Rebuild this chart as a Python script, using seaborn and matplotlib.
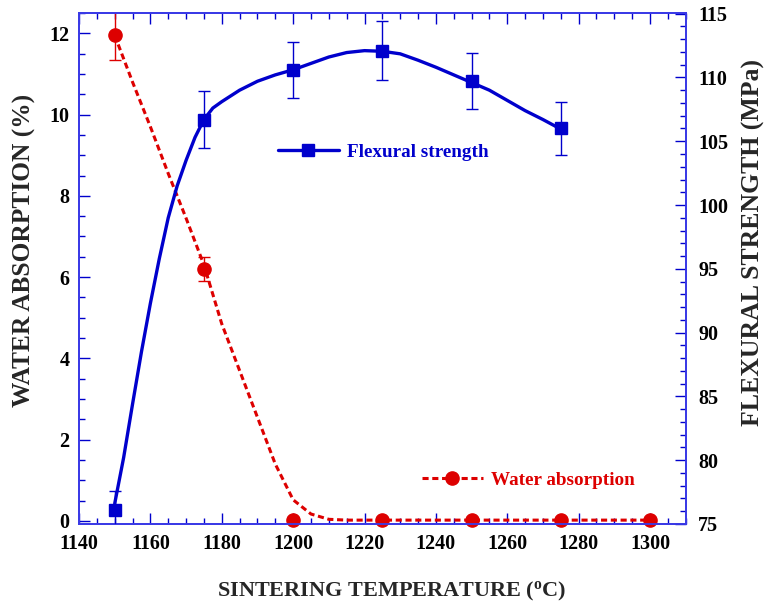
import numpy as np
import pandas as pd
import matplotlib
matplotlib.use("Agg")
import matplotlib.pyplot as plt
from matplotlib.ticker import MultipleLocator
from matplotlib.lines import Line2D
import seaborn as sns

# measured points
temps_fs = [1150, 1175, 1200, 1225, 1250, 1275]
flexural = [76.1, 106.7, 110.6, 112.1, 109.7, 106.0]
flexural_err = [1.5, 2.2, 2.2, 2.3, 2.2, 2.1]

temps_wa = [1150, 1175, 1200, 1225, 1250, 1275, 1300]
water = [11.95, 6.2, 0.02, 0.02, 0.02, 0.02, 0.02]
water_err = [0.6, 0.3, 0, 0, 0, 0, 0]

# smooth curves
curve_fs_t = [1150, 1152.5, 1155, 1157.5, 1160, 1162.5, 1165, 1167.5, 1170, 1172.5,
              1175, 1177.5, 1180, 1185, 1190, 1195, 1200, 1205, 1210, 1215, 1220, 1225,
              1230, 1235, 1240, 1245, 1250, 1255, 1260, 1265, 1270, 1275]
curve_fs_v = [76.6, 80.2, 84.4, 88.5, 92.3, 95.8, 99.0, 101.5, 103.5, 105.3,
              106.7, 107.6, 108.1, 109.0, 109.7, 110.2, 110.6, 111.1, 111.6, 111.95, 112.1, 112.05,
              111.85, 111.35, 110.8, 110.2, 109.6, 109.0, 108.2, 107.4, 106.7, 105.95]

curve_wa_t = [1150, 1155, 1160, 1165, 1170, 1175, 1180, 1185, 1190, 1195, 1200,
              1205, 1210, 1215, 1220, 1240, 1260, 1280, 1300]
curve_wa_v = [11.95, 10.8, 9.7, 8.55, 7.45, 6.3, 4.85, 3.7, 2.55, 1.4, 0.52,
              0.17, 0.04, 0.02, 0.02, 0.02, 0.02, 0.02, 0.02]

blue = "#0000cc"
red = "#dd0000"
spine_blue = "#3a3ae6"

sns.set_theme(style="white")
plt.rcParams["font.family"] = ["Liberation Serif", "DejaVu Serif"]
plt.rcParams["font.weight"] = "bold"
plt.rcParams["mathtext.fontset"] = "custom"
plt.rcParams["mathtext.bf"] = "Liberation Serif:bold"
plt.rcParams["mathtext.rm"] = "Liberation Serif:bold"

fig = plt.figure(figsize=(7.65, 6.02), dpi=100)
ax = fig.add_axes([0.1033, 0.1296, 0.793, 0.8488])
ax2 = ax.twinx()

df_wa = pd.DataFrame({"T": curve_wa_t, "v": curve_wa_v})
df_fs = pd.DataFrame({"T": curve_fs_t, "v": curve_fs_v})

# water absorption (left axis)
sns.lineplot(data=df_wa, x="T", y="v", ax=ax, color=red, lw=2.2,
             linestyle=(0, (2, 1.2)), zorder=2)
ax.errorbar(temps_wa, water, yerr=water_err, fmt="none", ecolor=red,
            elinewidth=1.0, capsize=4, capthick=1.0, zorder=3)
ax.plot(temps_wa, water, "o", color=red, ms=9.5, clip_on=False, zorder=4)

# flexural strength (right axis)
sns.lineplot(data=df_fs, x="T", y="v", ax=ax2, color=blue, lw=2.4, zorder=2)
ax2.errorbar(temps_fs, flexural, yerr=flexural_err, fmt="none", ecolor=blue,
             elinewidth=1.0, capsize=4, capthick=1.0, zorder=3)
ax2.plot(temps_fs, flexural, "s", color=blue, ms=8.5, clip_on=False, zorder=4)

ax.set_xlim(1140, 1310)
ax.set_ylim(-0.075, 12.5)
ax2.set_ylim(75, 115.05)

ax.xaxis.set_major_locator(MultipleLocator(20))
ax.xaxis.set_minor_locator(MultipleLocator(5))
ax.yaxis.set_major_locator(MultipleLocator(2))
ax.yaxis.set_minor_locator(MultipleLocator(0.5))
ax2.yaxis.set_major_locator(MultipleLocator(5))
ax2.yaxis.set_minor_locator(MultipleLocator(1))

for a in (ax, ax2):
    for s in a.spines.values():
        s.set_color(spine_blue)
        s.set_linewidth(1.3)
    a.tick_params(which="both", direction="in", color=blue, labelsize=14.5,
                  labelcolor="black", width=1.0)
    a.tick_params(which="major", length=8)
    a.tick_params(which="minor", length=4.5)

ax.tick_params(axis="x", which="both", top=True, bottom=True, pad=7)
ax.tick_params(axis="y", which="both", left=True, right=False, pad=7)
ax2.tick_params(axis="y", which="both", right=True, left=False, pad=9)
for lab in ax.get_xticklabels() + ax.get_yticklabels() + ax2.get_yticklabels():
    lab.set_fontweight("bold")

ax.set_xlabel("SINTERING TEMPERATURE ($\\mathbf{^{o}}$C)", fontsize=16, fontweight="bold")
ax.set_ylabel("WATER ABSORPTION (%)", fontsize=18.3, fontweight="bold")
ax2.set_ylabel("FLEXURAL STRENGTH (MPa)", fontsize=18.5, fontweight="bold")
ax2.set_xlabel("")
ax.xaxis.set_label_coords(0.516, -0.109)
ax.yaxis.set_label_coords(-0.071, 0.536)
ax2.yaxis.set_label_coords(1.092, 0.551)

# legends
h_fs = Line2D([], [], color=blue, lw=2.4, marker="s", ms=8.5)
h_wa = Line2D([], [], color=red, lw=2.2, linestyle=(0, (2, 1.2)), marker="o", ms=9.5)
leg1 = fig.legend([h_fs], ["Flexural strength"], loc="center left",
                  bbox_to_anchor=(0.363, 0.7475), frameon=False, borderpad=0,
                  borderaxespad=0, handlelength=3.2, handletextpad=0.4,
                  prop={"family": "Liberation Serif", "weight": "bold", "size": 13.8})
for t in leg1.get_texts():
    t.set_color(blue)
leg2 = fig.legend([h_wa], ["Water absorption"], loc="center left",
                  bbox_to_anchor=(0.551, 0.2025), frameon=False, borderpad=0,
                  borderaxespad=0, handlelength=3.2, handletextpad=0.4,
                  prop={"family": "Liberation Serif", "weight": "bold", "size": 13.8})
for t in leg2.get_texts():
    t.set_color(red)

fig.savefig("out.png", dpi=100)
